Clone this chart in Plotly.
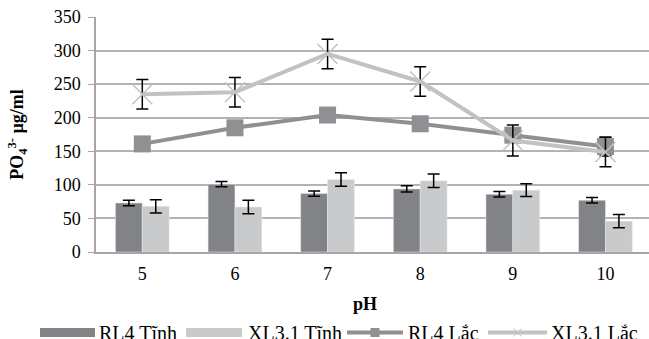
import plotly.graph_objects as go

# ---- data ----
ph_labels = ["5", "6", "7", "8", "9", "10"]
rl4_tinh = [73, 101, 87, 94, 86, 77]
rl4_tinh_err = [4, 4, 4, 4.5, 4, 4]
xl31_tinh = [68, 67, 108, 106, 92, 46]
xl31_tinh_err = [10, 10, 10, 10, 9.5, 10]
rl4_lac = [161, 185, 204, 191, 174, 157]
rl4_lac_err = [5, 5, 5, 5, 5, 14]
xl31_lac = [235, 238, 295, 254, 166, 149]
xl31_lac_err = [22, 22, 22, 22, 23, 22]

FONT = "Liberation Serif"
C_RL4_BAR = "#828386"
C_XL_BAR = "#c9cacc"
C_RL4_LINE = "#8f9093"
C_XL_LINE = "#c2c2c2"

W, H = 649, 339
L, R, T, B = 96, 0, 17, 87

fig = go.Figure()
eb = dict(type="data", visible=True, color="black", thickness=1.5, width=6)

fig.add_trace(go.Bar(x=ph_labels, y=rl4_tinh, name="RL4 Tĩnh", marker_color=C_RL4_BAR,
                     error_y=dict(array=rl4_tinh_err, **eb)))
fig.add_trace(go.Bar(x=ph_labels, y=xl31_tinh, name="XL3.1 Tĩnh", marker_color=C_XL_BAR,
                     error_y=dict(array=xl31_tinh_err, **eb)))
fig.add_trace(go.Scatter(x=ph_labels, y=rl4_lac, name="RL4 Lắc", mode="lines+markers",
                         line=dict(color=C_RL4_LINE, width=4),
                         marker=dict(symbol="square", size=17, color=C_RL4_LINE),
                         error_y=dict(array=rl4_lac_err, **eb)))
fig.add_trace(go.Scatter(x=ph_labels, y=xl31_lac, name="XL3.1 Lắc", mode="lines+markers",
                         line=dict(color=C_XL_LINE, width=4),
                         marker=dict(symbol="x-thin", size=20, color=C_XL_LINE,
                                     line=dict(color=C_XL_LINE, width=1.5)),
                         error_y=dict(array=xl31_lac_err, **eb)))

pw = W - L - R
ph = H - T - B
def px(x):
    return (x - L) / pw
def py(y):
    return (H - B - y) / ph

shapes = []
annotations = []
ly = 332.5
lty = 333
LFS = 20
# bar swatches
for x0, x1, col, txt, tx in [(40, 95, C_RL4_BAR, "RL4 Tĩnh", 97),
                             (186, 242, C_XL_BAR, "XL3.1 Tĩnh", 246)]:
    shapes.append(dict(type="rect", xref="paper", yref="paper", x0=px(x0), x1=px(x1),
                       y0=py(ly + 4.5), y1=py(ly - 4.5), fillcolor=col, line=dict(width=0)))
    annotations.append(dict(xref="paper", yref="paper", x=px(tx), y=py(lty), text=txt,
                            showarrow=False, xanchor="left", yanchor="middle",
                            font=dict(family=FONT, size=LFS, color="black")))
# line swatches
for x0, x1, col, txt, tx, kind in [(347, 403, C_RL4_LINE, "RL4 Lắc", 406, "sq"),
                                   (488, 547, C_XL_LINE, "XL3.1 Lắc", 549, "x")]:
    shapes.append(dict(type="line", xref="paper", yref="paper", x0=px(x0), x1=px(x1),
                       y0=py(ly), y1=py(ly), line=dict(color=col, width=4)))
    cx = (x0 + x1) / 2
    if kind == "sq":
        shapes.append(dict(type="rect", xref="paper", yref="paper", x0=px(cx - 4.5), x1=px(cx + 4.5),
                           y0=py(ly + 4.5), y1=py(ly - 4.5), fillcolor=col, line=dict(width=0)))
    else:
        for d in (1, -1):
            shapes.append(dict(type="line", xref="paper", yref="paper", x0=px(cx - 4), x1=px(cx + 4),
                               y0=py(ly + 4 * d), y1=py(ly - 4 * d), line=dict(color=col, width=1)))
    annotations.append(dict(xref="paper", yref="paper", x=px(tx), y=py(lty), text=txt,
                            showarrow=False, xanchor="left", yanchor="middle",
                            font=dict(family=FONT, size=LFS, color="black")))

# x-axis title
annotations.append(dict(xref="paper", yref="paper", x=px(364.5), y=py(303.5), text="<b>pH</b>",
                        showarrow=False, xanchor="center", yanchor="middle",
                        font=dict(family=FONT, size=18, color="black")))

fig.update_layout(
    width=W, height=H,
    margin=dict(l=L, r=R, t=T, b=B, autoexpand=False),
    paper_bgcolor="white", plot_bgcolor="white",
    barmode="group", bargap=0.42, bargroupgap=0,
    showlegend=False,
    font=dict(family=FONT, size=18, color="black"),
    shapes=shapes, annotations=annotations,
    xaxis=dict(type="category", range=[-0.5, 5.47], showgrid=False, showline=True,
               linecolor="#a6a6a6", linewidth=1.5, ticks="", tickfont=dict(size=18),
               ticklabelstandoff=5),
    yaxis=dict(range=[0, 350], dtick=50, showgrid=True, gridcolor="#b3b3b3", gridwidth=1.5,
               showline=True, linecolor="#a6a6a6", linewidth=1.5, ticks="outside",
               ticklen=6, tickcolor="#a6a6a6", tickfont=dict(size=18), zeroline=False,
               ticklabelstandoff=4,
               title=dict(text="<b>PO<sub>4</sub><sup>3-</sup> µg/ml</b>", font=dict(size=18),
                          standoff=25)),
)

fig.write_html("out.html", config={"displayModeBar": False},
               post_script="document.body.style.margin='0';document.body.style.overflow='hidden';")
